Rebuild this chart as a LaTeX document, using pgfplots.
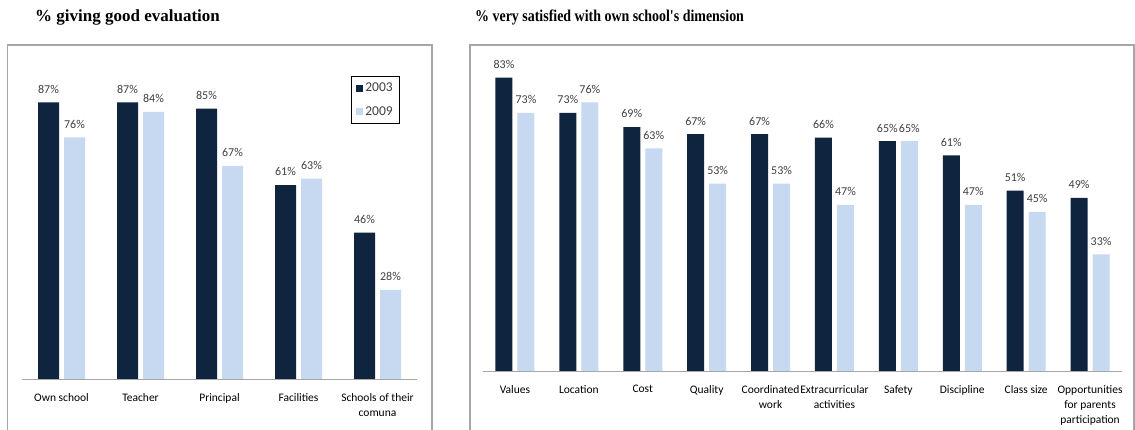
\documentclass[border=0pt]{standalone}
\usepackage{fontspec}
\setmainfont{Carlito}
\newfontfamily\titlefont{Liberation Serif}
\newfontfamily\condfont[FakeStretch=0.845]{Liberation Serif}
\usepackage{pgfplots}
\pgfplotsset{compat=1.18}
\definecolor{dk}{HTML}{0F243E}
\definecolor{lt}{HTML}{C6D9F1}
\definecolor{fr}{HTML}{A6A6A6}
\definecolor{txt}{HTML}{404040}
\pgfplotsset{
  mybars/.style={
    ybar, scale only axis, ymin=0, ymax=100,
    axis x line=bottom, axis y line=none,
    x axis line style={-, draw=fr, line width=0.8pt},
    xtick=data, major tick length=0pt,
    xticklabel style={align=center, font=\fontsize{11.5}{15}\selectfont, text=black, yshift=-11pt},
    nodes near coords={\pgfmathprintnumber{\pgfplotspointmeta}\%},
    every node near coord/.append style={font=\fontsize{12}{14}\selectfont, text=txt, yshift=5.5pt},
    /pgf/number format/assume math mode=true,
    clip=false,
  },
}
\begin{document}
\begin{tikzpicture}[x=1pt,y=1pt]
\useasboundingbox (0,0) rectangle (1135,430);
\draw[fr, line width=1.3pt] (7.5,-10) -- (7.5,385) -- (432,385) -- (432,-10);
\draw[fr, line width=1.3pt] (470,-10) -- (470,385) -- (1134,385) -- (1134,-10);
\node[anchor=base west, inner sep=0pt, font=\titlefont\bfseries\fontsize{17}{20}\selectfont] at (35,408) {\% giving good evaluation};
\node[anchor=base west, inner sep=0pt, font=\condfont\bfseries\fontsize{16.5}{20}\selectfont] at (475,408) {\% very satisfied with own school's dimension};

\begin{axis}[mybars, at={(22pt,51pt)}, anchor=south west,
  width=395pt, height=318pt, xmin=-0.5, xmax=4.5,
  bar width=21pt, ybar=5pt,
  xticklabels={Own school, Teacher, Principal, Facilities, {Schools of their\\comuna}},
  legend style={at={(0.833,0.953)}, anchor=north west, draw=black, line width=0.6pt,
    font=\fontsize{13.5}{15}\selectfont, text=txt, row sep=9pt, inner xsep=5pt, inner ysep=5pt},
  legend cell align=left,
  legend image code/.code={\fill[#1,draw=none] (0pt,-3.5pt) rectangle (7pt,3.5pt);},
]
\addplot[fill=dk, draw=none] coordinates {(0,87) (1,87) (2,85) (3,61) (4,46)};
\addplot[fill=lt, draw=none] coordinates {(0,76) (1,84) (2,67) (3,63) (4,28)};
\legend{2003,2009}
\end{axis}

\begin{axis}[mybars, at={(483pt,59pt)}, anchor=south west,
  width=639pt, height=353.5pt, xmin=-0.5, xmax=9.5,
  bar width=17pt, ybar=5pt,
  xticklabels={Values, Location, Cost, Quality, {Coordinated\\work}, {Extracurricular\\activities}, Safety, Discipline, Class size, {Opportunities\\for parents\\participation}},
]
\addplot[fill=dk, draw=none] coordinates {(0,83) (1,73) (2,69) (3,67) (4,67) (5,66) (6,65) (7,61) (8,51) (9,49)};
\addplot[fill=lt, draw=none] coordinates {(0,73) (1,76) (2,63) (3,53) (4,53) (5,47) (6,65) (7,47) (8,45) (9,33)};
\end{axis}
\end{tikzpicture}
\end{document}
